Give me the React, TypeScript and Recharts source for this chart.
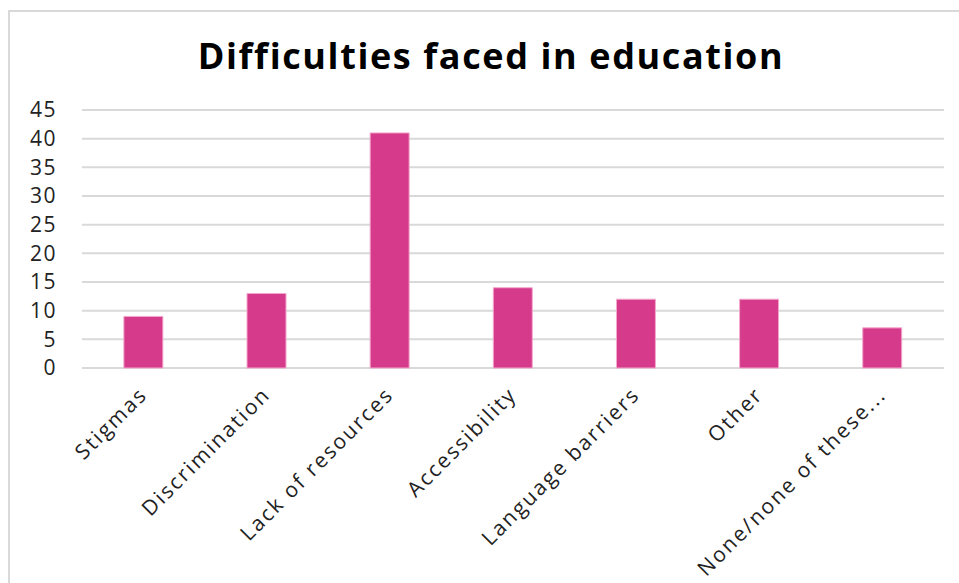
import React from "react";
import { BarChart, Bar, XAxis, YAxis, CartesianGrid } from "recharts";

const categories = [
  "Stigmas",
  "Discrimination",
  "Lack of resources",
  "Accessibility",
  "Language barriers",
  "Other",
  "None/none of these...",
];
const counts = [9, 13, 41, 14, 12, 12, 7];
const yTicks = [0, 5, 10, 15, 20, 25, 30, 35, 40, 45];

const data = categories.map((name, i) => ({ name, value: counts[i] }));

const FONT = "'Open Sans', sans-serif";

function XTick(props: any) {
  const { x, y, payload } = props;
  return (
    <g transform={`translate(${x},${y})`}>
      <text
        x={5}
        y={20}
        textAnchor="end"
        transform="rotate(-45, 5, 20)"
        fill="#222"
        fontSize={21}
        letterSpacing={2.1}
        fontFamily={FONT}
      >
        {payload.value}
      </text>
    </g>
  );
}

export default function App() {
  return (
    <div style={{ position: "fixed", top: 0, left: 0, width: 959, height: 583, overflow: "hidden", background: "#fff" }}>
      <div
        style={{
          position: "absolute",
          left: 8,
          top: 10,
          width: 1000,
          height: 700,
          border: "2px solid #d9d9d9",
        }}
      />
      <div
        style={{
          position: "absolute",
          left: 0,
          top: 31,
          width: 982,
          textAlign: "center",
          fontFamily: FONT,
          fontWeight: 700,
          fontSize: 36,
          letterSpacing: 1.6,
          color: "#000",
        }}
      >
        Difficulties faced in education
      </div>
      <div style={{ position: "absolute", left: 0, top: 0 }}>
        <BarChart
          width={959}
          height={583}
          data={data}
          margin={{ top: 110, right: 15, left: 0, bottom: 0 }}
          barCategoryGap="34%"
        >
          <CartesianGrid vertical={false} stroke="#d9d9d9" strokeWidth={2} />
          <XAxis
            dataKey="name"
            axisLine={false}
            tickLine={false}
            interval={0}
            tick={<XTick />}
            height={215}
          />
          <YAxis
            width={82}
            domain={[0, 45]}
            ticks={yTicks}
            interval={0}
            axisLine={false}
            tickLine={false}
            tickSize={0}
            tickMargin={25}
            tick={{ fill: "#222", fontSize: 21, letterSpacing: 1.5, fontFamily: FONT }}
          />
          <Bar dataKey="value" fill="#D63B8B" stroke="#F3A8CC" strokeWidth={1} isAnimationActive={false} />
        </BarChart>
      </div>
    </div>
  );
}
